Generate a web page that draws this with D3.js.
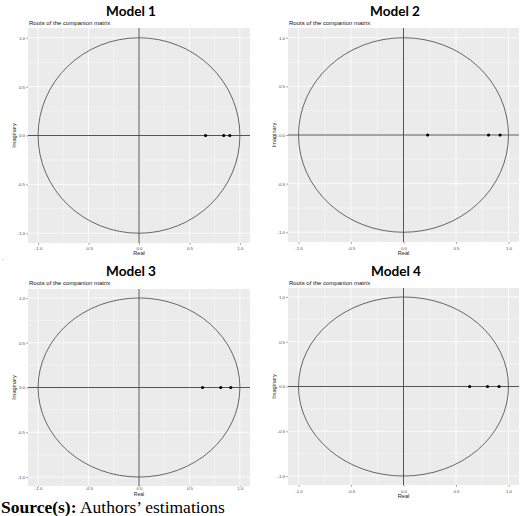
<!DOCTYPE html>
<html>
<head>
<meta charset="utf-8">
<script src="https://cdn.jsdelivr.net/npm/d3@7"></script>
<style>
  html, body { margin: 0; padding: 0; background: #fff; }
  svg { display: block; }
  .tick-lab { font-family: "Liberation Sans", Arial, sans-serif; font-size: 4.4px; fill: #4d4d4d; }
  .ax-title { font-family: "Liberation Sans", Arial, sans-serif; font-size: 5.6px; fill: #222; }
  .sub { font-family: "Liberation Sans", Arial, sans-serif; font-size: 6px; fill: #111; }
  .model { font-family: Lato, "Open Sans", sans-serif; font-weight: 700; font-size: 13.6px; fill: #000; }
  .src { font-family: "Liberation Serif", "Times New Roman", serif; font-size: 17.5px; fill: #000; }
</style>
</head>
<body>
<div id="chart"></div>
<script>
// Roots of the companion matrix for four VAR models: every root is real,
// so they sit on the horizontal axis inside the unit circle.
const models = ["Model 1", "Model 2", "Model 3", "Model 4"];
const rootsRe = [
  [0.66, 0.84, 0.90],
  [0.23, 0.81, 0.92],
  [0.63, 0.81, 0.91],
  [0.63, 0.80, 0.91]
];
const rootsIm = [
  [0, 0, 0],
  [0, 0, 0],
  [0, 0, 0],
  [0, 0, 0]
];
const majorTicks = [-1, -0.5, 0, 0.5, 1];
const minorTicks = [-0.75, -0.25, 0.25, 0.75];
const tickLabels = ["-1.0", "-0.5", "0.0", "0.5", "1.0"];

const W = 520, H = 516;
const DOMAIN = [-1.1, 1.1];
// panel rectangles (the four pasted ggplot images are not scaled alike)
const panels = [
  { x0: 28, x1: 250, y0: 28, y1: 243, titleX: 131, titleY: 16, subY: 25, tick: 1.8, pad: 2.3, realDy: 12, realFs: 5.6 },
  { x0: 288, x1: 519, y0: 28, y1: 242, titleX: 395, titleY: 16, subY: 25, tick: 1.8, pad: 2.8, realDy: 13, realFs: 5.6 },
  { x0: 28, x1: 250, y0: 289, y1: 486, titleX: 131, titleY: 276, subY: 285, tick: 1.0, pad: -0.3, realDy: 9.5, realFs: 5.0 },
  { x0: 288, x1: 519, y0: 288, y1: 485, titleX: 396, titleY: 276, subY: 285, tick: 1.8, pad: 2.8, realDy: 13, realFs: 5.6 }
];

const svg = d3.select("#chart").append("svg")
  .attr("width", W).attr("height", H).attr("viewBox", `0 0 ${W} ${H}`);

panels.forEach((p, i) => {
  const x = d3.scaleLinear(DOMAIN, [p.x0, p.x1]);
  const y = d3.scaleLinear(DOMAIN, [p.y1, p.y0]);
  const g = svg.append("g");

  g.append("text").attr("class", "model").attr("text-anchor", "middle")
    .attr("x", p.titleX).attr("y", p.titleY).text(models[i]);
  g.append("text").attr("class", "sub").attr("x", p.x0 + 1).attr("y", p.subY)
    .text("Roots of the companion matrix");

  g.append("rect").attr("x", p.x0).attr("y", p.y0)
    .attr("width", p.x1 - p.x0).attr("height", p.y1 - p.y0).attr("fill", "#ebebeb");

  // grid: minor then major
  g.selectAll(null).data(minorTicks).join("line")
    .attr("x1", (d) => x(d)).attr("x2", (d) => x(d)).attr("y1", p.y0).attr("y2", p.y1)
    .attr("stroke", "#fff").attr("stroke-width", 0.4);
  g.selectAll(null).data(minorTicks).join("line")
    .attr("y1", (d) => y(d)).attr("y2", (d) => y(d)).attr("x1", p.x0).attr("x2", p.x1)
    .attr("stroke", "#fff").attr("stroke-width", 0.4);
  g.selectAll(null).data(majorTicks).join("line")
    .attr("x1", (d) => x(d)).attr("x2", (d) => x(d)).attr("y1", p.y0).attr("y2", p.y1)
    .attr("stroke", "#fff").attr("stroke-width", 0.8);
  g.selectAll(null).data(majorTicks).join("line")
    .attr("y1", (d) => y(d)).attr("y2", (d) => y(d)).attr("x1", p.x0).attr("x2", p.x1)
    .attr("stroke", "#fff").attr("stroke-width", 0.8);

  // unit circle
  g.append("ellipse").attr("cx", x(0)).attr("cy", y(0))
    .attr("rx", x(1) - x(0)).attr("ry", y(0) - y(1))
    .attr("fill", "none").attr("stroke", "#444").attr("stroke-width", 0.8);

  // zero lines
  g.append("line").attr("x1", x(0)).attr("x2", x(0)).attr("y1", p.y0).attr("y2", p.y1)
    .attr("stroke", "#555").attr("stroke-width", 1);
  g.append("line").attr("y1", y(0)).attr("y2", y(0)).attr("x1", p.x0).attr("x2", p.x1)
    .attr("stroke", "#555").attr("stroke-width", 1);

  // roots
  g.selectAll(null).data(rootsRe[i].map((re, k) => ({ re, im: rootsIm[i][k] }))).join("circle")
    .attr("cx", (d) => x(d.re)).attr("cy", (d) => y(d.im)).attr("r", 1.6).attr("fill", "#000");

  // axes
  const fmt = (d) => tickLabels[majorTicks.indexOf(d)];
  const xa = g.append("g").attr("transform", `translate(0,${p.y1})`)
    .call(d3.axisBottom(x).tickValues(majorTicks).tickFormat(fmt).tickSize(p.tick).tickPadding(p.pad));
  const ya = g.append("g").attr("transform", `translate(${p.x0},0)`)
    .call(d3.axisLeft(y).tickValues(majorTicks).tickFormat(fmt).tickSize(1.8).tickPadding(1.2));
  [xa, ya].forEach((a) => {
    a.select(".domain").remove();
    a.selectAll(".tick line").attr("stroke", "#444").attr("stroke-width", 0.5);
    a.selectAll(".tick text").attr("class", "tick-lab");
    a.attr("font-size", null).attr("font-family", null);
  });

  g.append("text").attr("class", "ax-title").attr("text-anchor", "middle")
    .attr("x", (p.x0 + p.x1) / 2).attr("y", p.y1 + p.realDy)
    .style("font-size", `${p.realFs}px`).text("Real");
  g.append("text").attr("class", "ax-title").attr("text-anchor", "middle")
    .attr("transform", `translate(${p.x0 - 12},${(p.y0 + p.y1) / 2}) rotate(-90)`).text("Imaginary");
});

svg.append("text").attr("x", 2).attr("y", 260).attr("font-size", 6).attr("fill", "#666").text(".");

const src = svg.append("text").attr("class", "src").attr("x", 1).attr("y", 512.5);
src.append("tspan").attr("font-weight", 700).text("Source(s):");
src.append("tspan").text(" Authors\u2019 estimations");
</script>
</body>
</html>
